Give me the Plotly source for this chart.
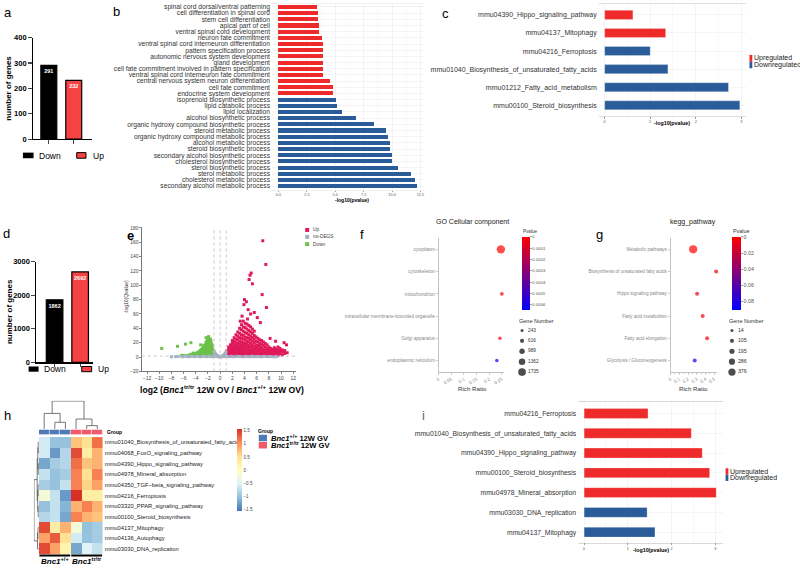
import plotly.graph_objects as go

W, H = 800, 570
FONT = "Liberation Sans, Arial, Helvetica, sans-serif"

# ---------------- data ----------------
dir_groups = ["Down", "Up"]
a_counts = [291, 232]
d_counts = [1862, 2692]
count_colors = ["#000000", "#f54242"]

b_terms = [
    "spinal cord dorsal/ventral patterning",
    "cell differentiation in spinal cord",
    "stem cell differentiation",
    "apical part of cell",
    "ventral spinal cord development",
    "neuron fate commitment",
    "ventral spinal cord interneuron differentiation",
    "pattern specification process",
    "autonomic nervous system development",
    "gland development",
    "cell fate commitment involved in pattern specification",
    "ventral spinal cord interneuron fate commitment",
    "central nervous system neuron differentiation",
    "cell fate commitment",
    "endocrine system development",
    "isoprenoid biosynthetic process",
    "lipid catabolic process",
    "lipid localization",
    "alcohol biosynthetic process",
    "organic hydroxy compound biosynthetic process",
    "steroid metabolic process",
    "organic hydroxy compound metabolic process",
    "alcohol metabolic process",
    "steroid biosynthetic process",
    "secondary alcohol biosynthetic process",
    "cholesterol biosynthetic process",
    "sterol biosynthetic process",
    "sterol metabolic process",
    "cholesterol metabolic process",
    "secondary alcohol metabolic process",
]
b_values = [3.35, 3.44, 3.44, 3.55, 3.61, 3.84, 3.90, 3.90, 3.93, 3.93, 3.93, 3.96, 4.54, 4.84, 4.84,
            5.11, 5.16, 5.57, 6.86, 8.44, 9.43, 9.63, 9.78, 9.78, 9.96, 9.96, 10.54, 11.65, 12.00, 12.21]
b_direction = ["Up"] * 15 + ["Down"] * 15

c_terms = ["mmu04390_Hippo_signaling_pathway", "mmu04137_Mitophagy", "mmu04216_Ferroptosis",
           "mmu01040_Biosynthesis_of_unsaturated_fatty_acids", "mmu01212_Fatty_acid_metabolism",
           "mmu00100_Steroid_biosynthesis"]
c_values = [0.62, 1.34, 1.00, 1.39, 2.72, 2.97]
c_direction = ["Up", "Up", "Down", "Down", "Down", "Down"]

i_terms = ["mmu04216_Ferroptosis", "mmu01040_Biosynthesis_of_unsaturated_fatty_acids",
           "mmu04390_Hippo_signaling_pathway", "mmu00100_Steroid_biosynthesis",
           "mmu04978_Mineral_absorption", "mmu03030_DNA_replication", "mmu04137_Mitophagy"]
i_values = [1.46, 2.45, 2.70, 2.87, 3.02, 1.44, 1.62]
i_direction = ["Up", "Up", "Up", "Up", "Up", "Down", "Down"]

# volcano (log2FC, -log10 Q)
up_columns = [
    (1.1, [1.5, 2.4, 4, 6, 8.5]),
    (1.4, [1.6, 3, 5.5, 8, 11, 14]),
    (1.7, [1.5, 2.6, 4.5, 7, 10, 13, 17]),
    (2.0, [1.8, 3.5, 6, 9, 12, 15, 19, 23]),
    (2.3, [1.5, 4, 7.5, 11, 14, 18, 22, 27]),
    (2.6, [2.2, 3, 6, 9.5, 13, 16.5, 20, 25, 31]),
    (2.9, [2, 5, 8, 12, 15, 19, 24, 29, 35]),
    (3.2, [1.6, 4, 7, 10.5, 14, 18, 22, 27, 33, 40]),
    (3.5, [1.7, 3, 6.5, 9, 13, 17, 21, 26, 31, 38, 45]),
    (3.8, [2.2, 5, 8.5, 12, 16, 20, 25, 30, 36, 42, 50]),
    (4.1, [1.5, 4, 7, 11, 15, 19, 24, 28, 34, 41, 47]),
    (4.4, [2.5, 6, 9.5, 13.5, 18, 22, 27, 33, 39, 46]),
    (4.7, [1.6, 4.5, 8, 12, 16, 21, 26, 31, 37, 44]),
    (5.0, [1.8, 3.5, 7, 10, 14.5, 19, 24, 29, 35, 42]),
    (5.3, [2, 5.5, 9, 13, 17, 22, 27, 33, 39]),
    (5.6, [1.5, 4, 7.5, 11, 15, 20, 25, 30, 36]),
    (5.9, [2.8, 6, 9.5, 13, 17, 22, 28]),
    (6.2, [1.5, 4.5, 8, 12, 16, 21, 26]),
    (6.5, [1.9, 3.5, 7, 10.5, 15, 19, 24]),
    (6.8, [2.3, 5.5, 9, 13, 18, 23]),
    (7.1, [1.6, 4, 7.5, 11, 16, 21]),
    (7.4, [2.5, 6, 9.5, 14, 19]),
    (7.7, [1.7, 4.5, 8, 12, 17]),
    (8.0, [3, 6.5, 10, 14]),
    (8.3, [1.6, 5, 8.5, 12]),
    (8.6, [3.5, 7, 10.5]),
    (8.9, [2, 5.5, 9, 13]),
    (9.2, [4, 7.5, 11]),
    (9.5, [2.5, 6, 9.5, 14]),
    (9.8, [4.5, 8, 12]),
    (10.2, [3, 7, 10]),
    (10.6, [5, 9]),
    (11.0, [6]),
]
up_outliers_x = [7.0, 7.5, 5.1, 4.9, 4.75, 5.3, 6.9, 4.0, 4.3, 7.6, 3.9, 4.6, 5.6, 5.0, 3.6, 6.1, 4.5, 3.3, 6.6, 12.5, 10.5, 10.9, 9.1, 8.2]
up_outliers_y = [162, 129, 117, 114, 108, 102, 87, 80, 77, 69, 73, 66, 62, 60, 57, 55, 53, 50, 48, 22, 20, 17, 22, 26]

down_columns = [
    (-1.1, [1.5, 2.5, 4, 6.5, 9]),
    (-1.3, [1.6, 3, 5.5, 8, 11, 14, 17]),
    (-1.5, [1.7, 2.5, 5, 7.5, 10, 13, 16, 19, 22]),
    (-1.7, [1.5, 4, 6.5, 9, 12, 15, 18, 21, 24]),
    (-1.9, [1.8, 3, 5.5, 8, 11, 14, 17, 20, 23, 27]),
    (-2.1, [2, 4.5, 7, 10, 13, 16, 19, 22, 26]),
    (-2.3, [1.6, 3.5, 6, 9, 12, 15, 18, 21]),
    (-2.5, [2.5, 5, 8, 11, 14, 17]),
    (-2.7, [1.6, 4, 7, 10, 13, 16]),
    (-2.9, [2.8, 5.5, 8.5, 12]),
    (-3.1, [1.5, 4.5, 7.5, 10.5]),
    (-3.3, [3, 6, 9]),
    (-3.5, [1.8, 4.8, 7.5]),
    (-3.8, [3.2, 6]),
    (-4.1, [2, 4.5]),
    (-4.4, [3, 5.5]),
    (-4.8, [1.5, 4]),
    (-5.2, [2.5]),
    (-5.6, [1.8]),
    (-6.0, [2.2]),
]
down_outliers_x = [-1.9, -2.3, -9.6, -7.0, -5.7, -4.8, -6.3, -3.2, -1.6]
down_outliers_y = [28.5, 27, 12, 15, 18, 20, 2.5, 17, 25]

nodeg_x = [-0.95, -0.85, -0.75, -0.6, -0.45, -0.3, -0.15, 0, 0.15, 0.3, 0.45, 0.6, 0.75, 0.85, 0.95,
           -0.9, -0.7, -0.5, 0.5, 0.7, 0.9, -0.95, 0.95, -0.2, 0.2,
           -7.3, -6.8, -6.2, -5.7, -5.2, -4.7, -4.2, -3.7, -3.2, -2.7, -2.2, -1.7, -1.3, 1.3, 1.8, 2.3,
           2.8, 3.3, 3.8, 4.3, 4.8, 5.3, 5.8, 6.3, 6.8, 7.3, 7.8, 8.3, 8.8, -1.0, 1.0, -8.0, 9.3]
nodeg_y = [7.5, 5.5, 4.2, 3, 2, 1.3, 0.7, 0.3, 0.6, 1.2, 2, 3, 4, 5.2, 7,
           3, 1.8, 0.8, 0.8, 1.8, 3, 1.2, 1.2, 0.2, 0.2,
           0.5, 0.9, 0.4, 1.0, 0.6, 1.1, 0.5, 0.9, 0.4, 1.0, 0.6, 1.1, 0.5, 0.6, 1.0, 0.4,
           1.1, 0.7, 0.3, 1.0, 0.5, 1.1, 0.6, 0.9, 0.4, 1.0, 0.5, 0.8, 0.3, 0.9, 0.8, 0.3, 0.6]
fc_cut = 1.0
q_cut_log = 1.3

f_terms = ["cytoplasm", "cytoskeleton", "mitochondrion", "intracellular membrane-bounded organelle",
           "Golgi apparatus", "endoplasmic reticulum"]
f_ratio = [0.246, 0.264, 0.250, 0.261, 0.242, 0.230]
f_pvalue = [0.0, 0.00001, 0.00001, 0.00002, 0.00002, 0.00063]
f_genes = [1950, 470, 500, 430, 450, 440]
f_legend_genes = [243, 616, 989, 1362, 1735]
f_p_ticks = [0, 0.0001, 0.0002, 0.0003, 0.0004, 0.0005, 0.0006]
f_p_max = 0.000648

g_terms = ["Metabolic pathways", "Biosynthesis of unsaturated fatty acids", "Hippo signaling pathway",
           "Fatty acid metabolism", "Fatty acid elongation", "Glycolysis / Gluconeogenesis"]
g_ratio = [0.258, 0.52, 0.303, 0.367, 0.417, 0.276]
g_pvalue = [0.0, 0.003, 0.004, 0.003, 0.002, 0.086]
g_genes = [450, 98, 105, 100, 98, 102]
g_legend_genes = [14, 105, 195, 286, 376]
g_p_ticks = [0, 0.02, 0.04, 0.06, 0.08]
g_p_max = 0.091

hm_rows = ["mmu01040_Biosynthesis_of_unsaturated_fatty_acids", "mmu04068_FoxO_signaling_pathway",
           "mmu04390_Hippo_signaling_pathway", "mmu04978_Mineral_absorption",
           "mmu04350_TGF\u2212beta_signaling_pathway", "mmu04216_Ferroptosis",
           "mmu03320_PPAR_signaling_pathway", "mmu00100_Steroid_biosynthesis",
           "mmu04137_Mitophagy", "mmu04136_Autophagy", "mmu03030_DNA_replication"]
hm_z = [
    [-0.6, -1.0, -1.0, 0.7, 0.5, 1.2],
    [-0.6, -1.3, -0.8, 1.4, 0.3, 0.8],
    [-1.2, -0.9, -0.8, 1.2, 0.7, 0.8],
    [-0.7, -1.0, -0.9, 1.1, 0.5, 1.1],
    [-0.9, -1.0, -0.7, 1.1, 0.6, 0.9],
    [-0.2, -0.7, -1.3, 1.6, 0.3, 0.3],
    [-1.0, -0.7, -1.1, 0.8, 1.1, 0.8],
    [-0.8, -0.7, -1.2, 1.1, 0.8, 0.7],
    [1.4, 0.3, 0.8, -0.2, -1.0, -0.9],
    [0.9, 1.3, 0.5, -0.6, -1.0, -0.9],
    [1.4, 0.9, 0.2, -1.2, -0.5, -0.7],
]
hm_groups = [0, 0, 0, 1, 1, 1]
hm_group_names = ["<b><i>Bnc1</i><sup>+/+</sup> 12W GV</b>", "<b><i>Bnc1</i><sup>tr/tr</sup> 12W GV</b>"]
hm_col_merges = [(1, 2, 6.7), (0, 6, 15.7), (4, 5, 3.3), (3, 8, 10.0), (7, 9, 28.3)]
hm_row_merges = [(0, 1, 0.6), (2, 3, 0.5), (11, 12, 1.0), (4, 5, 0.7), (6, 7, 0.6), (14, 15, 1.1),
                 (13, 16, 1.6), (8, 9, 0.8), (18, 10, 1.3), (17, 19, 4.6)]
hm_colors = ["#4575b4", "#91bfdb", "#e0f3f8", "#ffffbf", "#fee090", "#fc8d59", "#d73027"]
hm_ticks = [-1.5, -1, -0.5, 0, 0.5, 1, 1.5]

RED = "#ee2a2a"
BLUE = "#2a5c9a"
GROUP_COLORS = ["#4e7bb5", "#f05a6a"]


# ---------------- helpers ----------------
def dx(l, r):
    return [l / W, r / W]


def dy(t, b):
    return [1 - b / H, 1 - t / H]


def px(x):
    return x / W


def py(y):
    return 1 - y / H


annotations = []
shapes = []


def ann(text, x, y, size, color="#000", xanchor="center", yanchor="middle", bold=False, angle=0):
    annotations.append(dict(text=text, x=px(x), y=py(y), xref="paper", yref="paper", showarrow=False,
                            font=dict(family=FONT, size=size, color=color, weight="bold" if bold else "normal"),
                            xanchor=xanchor, yanchor=yanchor, textangle=angle, borderpad=0))


def rect(x0, y0, x1, y1, fill, line=None, lw=0):
    shapes.append(dict(type="rect", xref="paper", yref="paper", x0=px(x0), x1=px(x1), y0=py(y1), y1=py(y0),
                       fillcolor=fill, line=dict(color=line or fill, width=lw)))


fig = go.Figure()


# ---------------- a / d : counts ----------------
def count_bars(counts, xa, ya, width):
    fig.add_trace(go.Bar(x=dir_groups, y=counts, width=width,
                         marker=dict(color=count_colors, line=dict(color="#000", width=1.2)),
                         text=[str(v) for v in counts], textposition="inside", insidetextanchor="end",
                         textangle=0, constraintext="none",
                         textfont=dict(family=FONT, size=5.5, color="#fff", weight="bold"),
                         xaxis=xa, yaxis=ya, showlegend=False, hoverinfo="skip"))


count_bars(a_counts, "x", "y", 0.64)
count_bars(d_counts, "x4", "y4", 0.65)


# ---------------- b / c / i : horizontal bars ----------------
def hbars(terms, values, direction, xa, ya, width, edge):
    cols = [RED if d == "Up" else BLUE for d in direction]
    fig.add_trace(go.Bar(y=terms, x=values, orientation="h", width=width,
                         marker=dict(color=cols, line=dict(color=edge, width=0.8 if edge else 0)),
                         xaxis=xa, yaxis=ya, showlegend=False, hoverinfo="skip"))


hbars(b_terms, b_values, b_direction, "x2", "y2", 0.66, None)
hbars(c_terms, c_values, c_direction, "x3", "y3", 0.5, "rgba(255,255,255,0.35)")
hbars(i_terms, i_values, i_direction, "x12", "y12", 0.5, "rgba(255,255,255,0.35)")

# ---------------- e : volcano ----------------
up_x = [x for x, ys in up_columns for _ in ys] + up_outliers_x
up_y = [y for _, ys in up_columns for y in ys] + up_outliers_y
dn_x = [x for x, ys in down_columns for _ in ys] + down_outliers_x
dn_y = [y for _, ys in down_columns for y in ys] + down_outliers_y
for xs, ys, col in [(up_x, up_y, "#e0195a"), (dn_x, dn_y, "#6cc24a"), (nodeg_x, nodeg_y, "#9fb0c4")]:
    fig.add_trace(go.Scatter(x=xs, y=ys, mode="markers", xaxis="x5", yaxis="y5",
                             marker=dict(symbol="square", size=3, color=col, line=dict(width=0)),
                             showlegend=False, hoverinfo="skip", cliponaxis=False))
for xv in [-fc_cut, 0, fc_cut]:
    shapes.append(dict(type="line", xref="x5", yref="y5 domain", x0=xv, x1=xv, y0=0, y1=1,
                       line=dict(color="#c4c4c4", width=0.9, dash="dot")))
shapes.append(dict(type="line", xref="x5 domain", yref="y5", x0=0, x1=1, y0=q_cut_log, y1=q_cut_log,
                   line=dict(color="#c4c4c4", width=0.9, dash="dot")))


# ---------------- f / g : dot plots ----------------
def f_size(g):
    return 2.23 + 0.00315 * g


def g_size(g):
    return 2.83 + 0.01188 * g


def dotplot(terms, ratio, pvals, genes, size_fn, pmax, pticks, xa, ya, cb_x, cb_th, cb_len, tick_size):
    ypos = list(range(len(terms)))[::-1]
    fig.add_trace(go.Scatter(
        x=ratio, y=ypos, mode="markers", xaxis=xa, yaxis=ya, cliponaxis=False,
        marker=dict(size=[size_fn(g) for g in genes], color=[-p for p in pvals],
                    colorscale=[[0, "#0000ff"], [1, "#ff0000"]], cmin=-pmax, cmax=0, line=dict(width=0),
                    colorbar=dict(x=px(cb_x), xanchor="left", y=py(236.7), yanchor="top",
                                  len=cb_len, lenmode="pixels", thickness=cb_th, thicknessmode="pixels",
                                  xpad=0, ypad=0, outlinewidth=0, ticks="outside", ticklen=2,
                                  tickcolor="#666", tickwidth=0.6,
                                  tickvals=[-t for t in pticks], ticktext=[f"{t:g}" if t else "0" for t in pticks],
                                  tickfont=dict(family=FONT, size=tick_size, color="#555"))),
        showlegend=False, hoverinfo="skip"))


dotplot(f_terms, f_ratio, f_pvalue, f_genes, f_size, f_p_max,
        f_p_ticks, "x6", "y6", 520.7, 8.3, 72.6, 4.3)
dotplot(g_terms, g_ratio, g_pvalue, g_genes, g_size, g_p_max, g_p_ticks, "x7", "y7", 731.7, 8.6, 73.3, 5.3)


def gene_legend(vals, size_fn, xa, ya, fsize):
    idx = list(range(len(vals)))
    fig.add_trace(go.Scatter(x=[0] * len(vals), y=idx, mode="markers", xaxis=xa, yaxis=ya, cliponaxis=False,
                             marker=dict(size=[size_fn(v) for v in vals], color="#000", line=dict(width=0)),
                             showlegend=False, hoverinfo="skip"))
    fig.add_trace(go.Scatter(x=[1] * len(vals), y=idx, mode="text", xaxis=xa, yaxis=ya, cliponaxis=False,
                             text=[str(v) for v in vals], textposition="middle right",
                             textfont=dict(family=FONT, size=fsize, color="#333"),
                             showlegend=False, hoverinfo="skip"))


gene_legend(f_legend_genes, f_size, "x13", "y13", 4.8)
gene_legend(g_legend_genes, g_size, "x14", "y14", 5.3)

# ---------------- h : heatmap ----------------
fig.add_trace(go.Heatmap(z=hm_z, x=list(range(6)), y=list(range(len(hm_rows))), xaxis="x8", yaxis="y8",
                         colorscale=[[k / 6, c] for k, c in enumerate(hm_colors)], zmin=-1.55, zmax=1.55,
                         colorbar=dict(x=px(235), xanchor="left", y=py(432), yanchor="top", len=82,
                                       lenmode="pixels", thickness=5.3, thicknessmode="pixels", xpad=0, ypad=0,
                                       outlinewidth=0, ticks="", tickvals=hm_ticks,
                                       ticktext=[f"{t:g}".replace("-", "\u2212") for t in hm_ticks],
                                       tickfont=dict(family=FONT, size=4.6, color="#444")),
                         hoverinfo="skip"))
fig.add_trace(go.Heatmap(z=[hm_groups], x=list(range(6)), y=[0], xaxis="x11", yaxis="y11", xgap=0.6,
                         colorscale=[[0, GROUP_COLORS[0]], [0.5, GROUP_COLORS[0]], [0.5, GROUP_COLORS[1]],
                                     [1, GROUP_COLORS[1]]], zmin=0, zmax=1, showscale=False, hoverinfo="skip"))


def dendro(leaf_pos, merges):
    pos = list(leaf_pos)
    hgt = [0.0] * len(leaf_pos)
    P, Hh = [], []
    for a, b, h in merges:
        P += [pos[a], pos[a], pos[b], pos[b], None]
        Hh += [hgt[a], h, h, hgt[b], None]
        pos.append((pos[a] + pos[b]) / 2)
        hgt.append(h)
    return P, Hh


cp, ch = dendro(list(range(6)), hm_col_merges)
fig.add_trace(go.Scatter(x=cp, y=ch, mode="lines", xaxis="x9", yaxis="y9", line=dict(color="#555", width=0.8),
                         showlegend=False, hoverinfo="skip", cliponaxis=False))
rp, rh = dendro(list(range(len(hm_rows))), hm_row_merges)
fig.add_trace(go.Scatter(x=rh, y=rp, mode="lines", xaxis="x10", yaxis="y10", line=dict(color="#555", width=0.8),
                         showlegend=False, hoverinfo="skip", cliponaxis=False))
for g in (0, 1):
    cols = [k for k, v in enumerate(hm_groups) if v == g]
    shapes.append(dict(type="line", xref="x8", yref="paper", x0=min(cols) - 0.45, x1=max(cols) + 0.45,
                       y0=py(560.3), y1=py(560.3), line=dict(color="#000", width=2)))
    annotations.append(dict(text=["<b><i>Bnc1</i></b><b><sup>+/+</sup></b>", "<b><i>Bnc1</i></b><b><sup>tr/tr</sup></b>"][g],
                            x=sum(cols) / len(cols), y=py(565.5), xref="x8", yref="paper", showarrow=False,
                            font=dict(family=FONT, size=8, color="#000"), xanchor="center", yanchor="middle"))

# ---------------- layout / axes ----------------
def blank(dom_x, dom_y, rx, ry, anchor_x, anchor_y):
    return (dict(domain=dom_x, range=rx, visible=False, anchor=anchor_y, fixedrange=True),
            dict(domain=dom_y, range=ry, visible=False, anchor=anchor_x, fixedrange=True))


tick_small = dict(family=FONT, size=3.8, color="#555")
lay = {}

# a
lay["xaxis"] = dict(domain=dx(30, 89), range=[-0.64, 1.72], anchor="y", showline=True, linecolor="#000",
                    linewidth=1.3, ticks="outside", ticklen=3.5, tickwidth=1.2, showticklabels=False,
                    showgrid=False, fixedrange=True)
lay["yaxis"] = dict(domain=dy(34.3, 137.3), range=[0, 400], dtick=100, anchor="x", showline=True,
                    linecolor="#000", linewidth=1.3, ticks="outside", ticklen=3.5, tickwidth=1.2,
                    tickfont=dict(family=FONT, size=7.5, color="#000", weight="bold"), showgrid=False,
                    zeroline=False, fixedrange=True)
# d
lay["xaxis4"] = dict(domain=dx(33.3, 90), range=[-0.72, 1.49], anchor="y4", showline=True, linecolor="#000",
                     linewidth=1.3, ticks="outside", ticklen=3.5, tickwidth=1.2, showticklabels=False,
                     showgrid=False, fixedrange=True)
lay["yaxis4"] = dict(domain=dy(261.7, 364), range=[0, 3000], dtick=1000, anchor="x4", showline=True,
                     linecolor="#000", linewidth=1.3, ticks="outside", ticklen=3.5, tickwidth=1.2,
                     tickfont=dict(family=FONT, size=7.5, color="#000", weight="bold"), showgrid=False,
                     zeroline=False, fixedrange=True)
# b
lay["xaxis2"] = dict(domain=dx(270, 423), range=[-0.57, 12.85], anchor="y2", tickvals=[0, 2.5, 5, 7.5, 10, 12.5],
                     tickformat=".1f", tickfont=tick_small, ticks="outside", ticklen=1, tickcolor="#999",
                     showgrid=True, gridcolor="#ececec", gridwidth=0.6, zeroline=False,
                     minor=dict(dtick=1.25, showgrid=True, gridcolor="#f4f4f4", gridwidth=0.4),
                     showline=True, mirror=True, linecolor="#e6e6e6", linewidth=0.6, fixedrange=True)
lay["yaxis2"] = dict(domain=dy(0, 189), range=[-0.64, 29.48], anchor="x2", categoryorder="array",
                     categoryarray=b_terms[::-1], tickmode="linear", tick0=0, dtick=1,
                     tickfont=dict(family=FONT, size=6.7, color="#333"),
                     ticks="", showgrid=True, gridcolor="#ececec", gridwidth=0.6, ticklabelstandoff=1,
                     fixedrange=True)
# c
lay["xaxis3"] = dict(domain=dx(598, 746), range=[-0.13, 3.11], anchor="y3", dtick=1, tickfont=tick_small,
                     ticks="outside", ticklen=1.5, tickcolor="#999", showgrid=True, gridcolor="#efefef",
                     gridwidth=0.6, zeroline=False, minor=dict(dtick=0.5, showgrid=True, gridcolor="#f5f5f5"),
                     showline=True, mirror=True, linecolor="#d6d6d6", linewidth=0.8, fixedrange=True)
lay["yaxis3"] = dict(domain=dy(0, 114), range=[-0.6, 5.6], anchor="x3", categoryorder="array",
                     categoryarray=c_terms[::-1], tickfont=dict(family=FONT, size=7, color="#333"),
                     ticks="", showgrid=True, gridcolor="#efefef", gridwidth=0.6, ticklabelstandoff=1,
                     fixedrange=True)
# i
lay["xaxis12"] = dict(domain=dx(577.3, 722.7), range=[-0.137, 3.175], anchor="y12", dtick=1, tickfont=tick_small,
                      ticks="outside", ticklen=1.5, tickcolor="#999", showgrid=True, gridcolor="#efefef",
                      gridwidth=0.6, zeroline=False, minor=dict(dtick=0.5, showgrid=True, gridcolor="#f5f5f5"),
                      showline=True, mirror=True, linecolor="#cfcfcf", linewidth=0.8, fixedrange=True)
lay["yaxis12"] = dict(domain=dy(404, 547.3), range=[-0.53, 6.6], anchor="x12", categoryorder="array",
                      categoryarray=i_terms[::-1], tickfont=dict(family=FONT, size=6.8, color="#333"),
                      ticks="", showgrid=True, gridcolor="#efefef", gridwidth=0.6, ticklabelstandoff=1,
                      fixedrange=True)
# e
lay["xaxis5"] = dict(domain=dx(139.3, 294), range=[-12.87, 12.44], anchor="y5", tickvals=list(range(-12, 13, 2)),
                     ticks="outside", ticklen=2, tickcolor="#555", tickwidth=0.7, showline=True,
                     linecolor="#555", linewidth=0.8, tickfont=dict(family=FONT, size=5, color="#444"),
                     showgrid=False, zeroline=False, fixedrange=True)
lay["yaxis5"] = dict(domain=dy(226.7, 373.3), range=[-20, 181], dtick=20, anchor="x5", ticks="outside",
                     ticklen=1.5, tickcolor="#555", tickwidth=0.7, showline=True, linecolor="#555",
                     linewidth=0.8, tickfont=dict(family=FONT, size=5, color="#444"), showgrid=False,
                     zeroline=False, ticklabelstandoff=0, fixedrange=True)
# f / g
for key, dom, rng, dt, terms in [("6", dx(437.3, 503.3), [0, 0.26], 0.05, f_terms),
                                  ("7", dx(670, 716.7), [0, 0.53], 0.1, g_terms)]:
    lay["xaxis" + key] = dict(domain=dom, range=rng, dtick=dt, anchor="y" + key, ticks="outside", ticklen=2,
                              tickcolor="#aaa", tickwidth=0.6, showline=True, linecolor="#aaa", linewidth=0.7,
                              tickangle=-30, tickfont=dict(family=FONT, size=4.6, color="#888"),
                              showgrid=False, zeroline=False, fixedrange=True,
                              minor=dict(dtick=dt / 2, ticks="outside", ticklen=1.5, tickcolor="#aaa") if key == "7" else None)
    lay["yaxis" + key] = dict(domain=dy(238, 374), range=[-0.52, 5.5], anchor="x" + key,
                              tickvals=list(range(len(terms)))[::-1], ticktext=terms, ticks="outside", ticklen=2,
                              tickcolor="#aaa", tickwidth=0.6, showline=True, linecolor="#aaa", linewidth=0.7,
                              tickfont=dict(family=FONT, size=4.8 if key == "6" else 4.6, color="#888"),
                              showgrid=False, zeroline=False, fixedrange=True)
# h
lay["xaxis8"] = dict(domain=dx(36, 100), range=[-0.5, 5.5], anchor="y8", visible=False, fixedrange=True)
lay["yaxis8"] = dict(domain=dy(440, 559), range=[len(hm_rows) - 0.5, -0.5], anchor="x8", side="right",
                     tickvals=list(range(len(hm_rows))), ticktext=hm_rows, ticks="", showline=False,
                     showgrid=False, zeroline=False, tickfont=dict(family=FONT, size=5.8, color="#222"),
                     ticklabelstandoff=1, fixedrange=True)
lay["xaxis9"], lay["yaxis9"] = blank(dx(36, 100), dy(403, 431.7), [-0.5, 5.5], [0, 28.7], "x9", "y9")
lay["xaxis10"], lay["yaxis10"] = blank(dx(31, 36), dy(440, 559), [4.7, 0], [len(hm_rows) - 0.5, -0.5], "x10", "y10")
lay["xaxis11"], lay["yaxis11"] = blank(dx(36, 100), dy(432.3, 437.7), [-0.5, 5.5], [-0.5, 0.5], "x11", "y11")
lay["xaxis13"], lay["yaxis13"] = blank(dx(515, 533), dy(326.4, 379.3), [-1, 2], [4.5, -0.5], "x13", "y13")
lay["xaxis14"], lay["yaxis14"] = blank(dx(725.7, 743.7), dy(326.4, 379.3), [-1, 2], [4.5, -0.5], "x14", "y14")

# ---------------- text / legends ----------------
for lab, x, y, col in [("a", 5, 8.5, "#000"), ("b", 114, 8, "#000"), ("c", 444.5, 9.5, "#000"),
                       ("d", 4, 233, "#000"), ("e", 127.7, 235, "#000"), ("f", 360, 234, "#000"),
                       ("g", 598.5, 234, "#000"), ("h", 4.5, 418, "#000"), ("i", 422.5, 418, "#666")]:
    ann(lab, x, y, 13, color=col, bold=(lab == "e"))

ann("number of genes", 6, 85, 8, bold=True, angle=-90)
ann("number of genes", 6, 312, 8, bold=True, angle=-90)
# a / d legends
for (y0, y1, tx), (bx0, bx1, rx0, rx1, ux) in [((151, 156.7, 154), (20, 30.7, 74, 83.3, 89)),
                                                 ((368.3, 373.6, 371), (25.7, 35.7, 79, 89, 94))]:
    rect(bx0, y0, bx1, y1, count_colors[0])
    rect(rx0, y0, rx1, y1, count_colors[1], "#000", 1)
    ann(dir_groups[0], bx1 + 4.5, tx, 8.5, xanchor="left")
    ann(dir_groups[1], ux, tx, 8.5, xanchor="left")

ann("-log10(pvalue)", 350, 199.5, 5, bold=True)
ann("-log10(pvalue)", 671.7, 121.3, 5.3, bold=True)
ann("-log10(pvalue)", 650.7, 555, 5.3, bold=True)
for (x0, ya, yb, yc), ty in [((749.3, 51.7, 58.7, 65.3), (55, 62)), ((725.3, 471.7, 478.3, 484.6), (475, 481.4))]:
    rect(x0, ya, x0 + 2.8, yb, RED)
    rect(x0, yb, x0 + 2.8, yc, BLUE)
    ann("Upregulated", x0 + 3.8, ty[0], 7, color="#222", xanchor="left")
    ann("Downregulated", x0 + 3.8, ty[1], 7, color="#222", xanchor="left")

# volcano texts
ann("<b>log2 (<i>Bnc1</i><sup>tr/tr</sup> 12W OV / <i>Bnc1</i><sup>+/+</sup> 12W OV)</b>", 220, 391.5, 8.6)
ann("-log10(Qvalue)", 123.5, 298, 5, color="#333", angle=-90)
for (col, name), yy in zip([("#e0195a", "Up"), ("#9fb0c4", "no-DEGS"), ("#6cc24a", "Down")], [229.6, 236.6, 244]):
    rect(303.3, yy - 2, 307.3, yy + 2, col)
    ann(name, 310.5, yy, 4.8, color="#444", xanchor="left")

# dot plot texts
ann("GO Cellular component", 471, 222, 7, color="#222")
ann("kegg_pathway", 692.7, 221.7, 7, color="#222")
ann("Rich Ratio", 471, 391, 6.2, color="#333")
ann("Rich Ratio", 692.7, 391, 6.2, color="#333")
ann("Pvalue", 520.7, 230.7, 4.6, color="#333", xanchor="left")
ann("Pvalue", 731.7, 230.7, 5.4, color="#333", xanchor="left")
ann("Gene Number", 516.7, 321.7, 5.5, color="#333", xanchor="left")
ann("Gene Number", 727.7, 321.7, 5.5, color="#333", xanchor="left")

# heatmap texts
ann("Group", 103.3, 435, 5, bold=True, xanchor="left")
ann("Group", 255, 433.5, 5, bold=True, xanchor="left")
for k, yy in enumerate([441, 448.3]):
    rect(256.7, yy - 3.3, 265, yy + 3.3, GROUP_COLORS[k])
    ann(hm_group_names[k], 268, yy, 7.6, xanchor="left")

fig.update_layout(width=W, height=H, margin=dict(l=0, r=0, t=0, b=0), paper_bgcolor="#fff",
                  plot_bgcolor="#fff", showlegend=False, font=dict(family=FONT), bargap=0,
                  annotations=annotations, shapes=shapes, **lay)
fig.write_html("out.html", config={"displayModeBar": False, "staticPlot": True},
               post_script="document.body.style.margin='0';document.body.style.padding='0';")
